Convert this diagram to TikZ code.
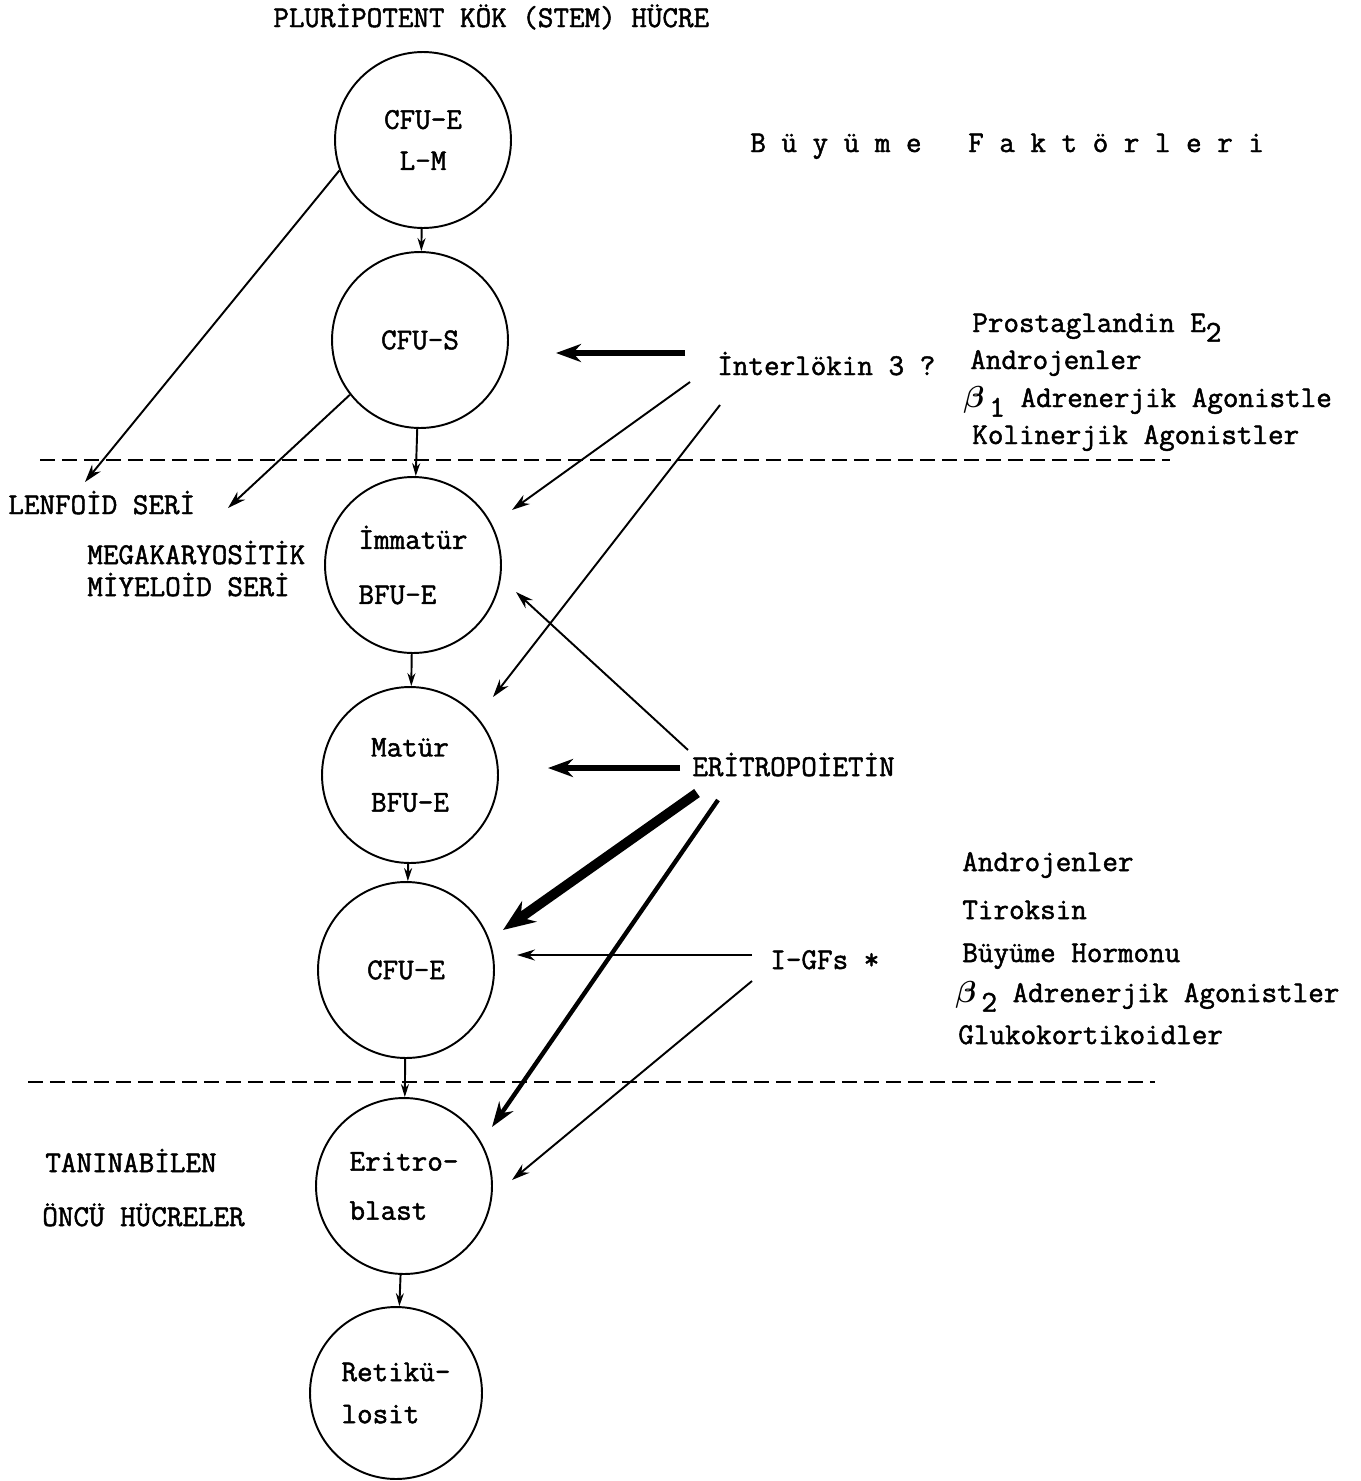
\documentclass[tikz,border=0pt]{standalone}
\usepackage{fontspec}
\setmainfont{Latin Modern Mono}[RawFeature={embolden=1.6}]
\usetikzlibrary{arrows.meta}
\newcommand{\altsayi}[1]{\raisebox{-0.32em}{#1}}
\newcommand{\betaharf}{{\boldmath$\beta$}}
\begin{document}
\begin{tikzpicture}[x=0.02cm, y=-0.02cm, every node/.style={font=\fontsize{17.2}{20}\selectfont}]
\tikzset{hucre/.style={draw, circle, line width=1.1pt, minimum size=3.52cm, inner sep=0pt, align=left},
  yazi/.style={anchor=base west, inner sep=0pt},
  dikok/.style={line width=1.1pt, -{Stealth[length=0.26cm, width=0.16cm]}},
  ince/.style={line width=1.1pt, -{Stealth[length=0.36cm, width=0.22cm]}},
  orta/.style={line width=2.5pt, -{Stealth[length=0.5cm, width=0.34cm]}},
  kalin/.style={line width=3.8pt, -{Stealth[length=0.5cm, width=0.36cm]}},
  enkalin/.style={line width=5.6pt, -{Stealth[length=0.64cm, width=0.5cm]}},
  kesik/.style={line width=1.4pt, dash pattern=on 0.3cm off 0.14cm}}
\useasboundingbox (0,0) rectangle (1361,1481);
\node[hucre, align=center] (cfulm) at (423,140) {CFU-E\\[0.12cm]L-M};
\node[hucre] (cfus) at (420,340) {CFU-S};
\node[hucre] (immatur) at (413,565) {İmmatür\\[0.4cm]BFU-E};
\node[hucre] (matur) at (410,775) {Matür\\[0.4cm]BFU-E};
\node[hucre] (cfue) at (406,970) {CFU-E};
\node[hucre] (eritro) at (404,1186) {Eritro-\\[0.28cm]blast};
\node[hucre, minimum size=3.44cm] (retik) at (396,1393) {Retikü-\\[0.14cm]losit};
\foreach \a/\b in {cfulm/cfus, cfus/immatur, immatur/matur, matur/cfue, cfue/eritro, eritro/retik}
  \draw[dikok] (\a) -- (\b);
\draw[kesik] (40,460) -- (1170,460);
\draw[kesik] (28,1082) -- (1155,1082);
\node[yazi] (baslik) at (273,27) {PLURİPOTENT KÖK (STEM) HÜCRE};
\node[yazi] (faktor) at (750,152) {B~ü~y~ü~m~e~~~F~a~k~t~ö~r~l~e~r~i};
\node[yazi] (pge) at (972,332) {Prostaglandin E\altsayi{2}};
\node[yazi] (andro1) at (970,369) {Androjenler};
\node[yazi] (beta1) at (963,407) {\betaharf\,\altsayi{1} Adrenerjik Agonistle};
\node[yazi] (kolin) at (972,444) {Kolinerjik Agonistler};
\node[yazi] (il3) at (717,375) {İnterlökin 3 ?};
\node[yazi] (lenfoid) at (8,514) {LENFOİD SERİ};
\node[yazi] (mega1) at (87,564) {MEGAKARYOSİTİK};
\node[yazi] (mega2) at (87,596) {MİYELOİD SERİ};
\node[yazi] (epo) at (692,776) {ERİTROPOİETİN};
\node[yazi] (igf) at (770,969) {I-GFs *};
\node[yazi] (andro2) at (962,871) {Androjenler};
\node[yazi] (tirok) at (962,919) {Tiroksin};
\node[yazi] (bh) at (962,962) {Büyüme Hormonu};
\node[yazi] (beta2) at (955,1002) {\betaharf\,\altsayi{2} Adrenerjik Agonistler};
\node[yazi] (gluko) at (958,1044) {Glukokortikoidler};
\node[yazi] (tanin) at (45,1172) {TANINABİLEN};
\node[yazi] (oncu) at (42,1226) {ÖNCÜ HÜCRELER};
\coordinate (lenuc) at (85,482);
\coordinate (megauc) at (228,508);
\coordinate (il3a) at (685,353);
\coordinate (il3b) at (690,382);
\coordinate (il3c) at (720,405);
\coordinate (epoa) at (688,750);
\coordinate (epob) at (680,768);
\coordinate (epoc) at (697,793);
\coordinate (epod) at (718,800);
\coordinate (igfa) at (752,955);
\coordinate (igfb) at (752,981);
\coordinate (cfusuc) at (556,353);
\coordinate (immuc1) at (512,510);
\coordinate (immuc2) at (516,592);
\coordinate (matuc1) at (493,697);
\coordinate (matuc2) at (548,768);
\coordinate (cfueuc1) at (503,930);
\coordinate (cfueuc2) at (517,955);
\coordinate (eriuc1) at (492,1127);
\coordinate (eriuc2) at (512,1180);
\draw[ince] (cfulm.200) -- (lenuc);
\draw[ince] (cfus.218) -- (megauc);
\draw[kalin] (il3a) -- (cfusuc);
\draw[ince] (il3b) -- (immuc1);
\draw[ince] (il3c) -- (matuc1);
\draw[ince] (epoa) -- (immuc2);
\draw[kalin] (epob) -- (matuc2);
\draw[enkalin] (epoc) -- (cfueuc1);
\draw[orta] (epod) -- (eriuc1);
\draw[ince] (igfa) -- (cfueuc2);
\draw[ince] (igfb) -- (eriuc2);
\end{tikzpicture}
\end{document}
